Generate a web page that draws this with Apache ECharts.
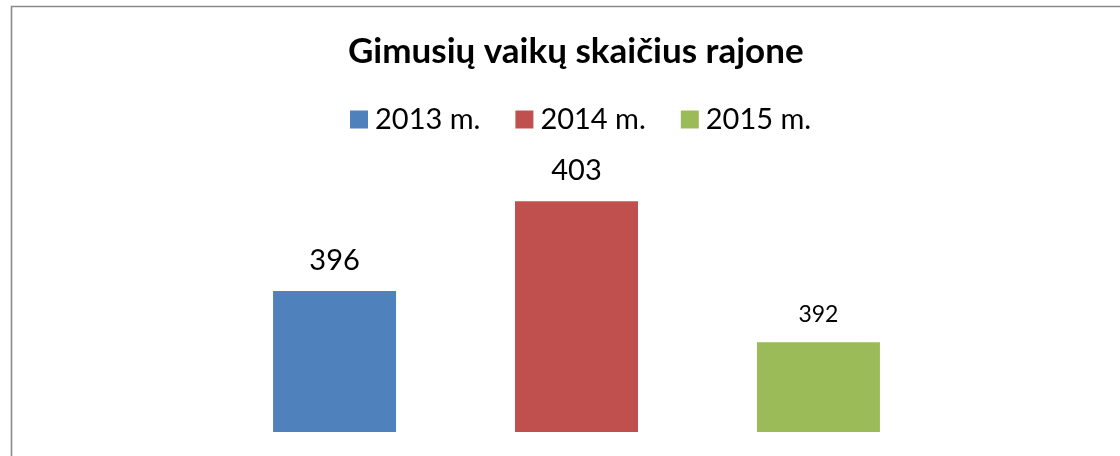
<!DOCTYPE html>
<html>
<head>
<meta charset="utf-8">
<script src="https://cdn.jsdelivr.net/npm/echarts@6/dist/echarts.min.js"></script>
<style>
html,body{margin:0;padding:0;background:#fff;}
#c{width:1120px;height:456px;}
</style>
</head>
<body>
<div id="c"></div>
<script>
const titleText = 'Gimusių vaikų skaičius rajone';
const categories = ['Gimę vaikai'];
const seriesNames = ['2013 m.', '2014 m.', '2015 m.'];
const values2013 = [396];
const values2014 = [403];
const values2015 = [392];
const seriesColors = ['#4F81BD', '#C0504D', '#9BBB59'];
const labelSizes = [29, 29, 23];

const seriesValues = [values2013, values2014, values2015];

const chart = echarts.init(document.getElementById('c'), null, {renderer: 'canvas'});
chart.setOption({
  animation: false,
  backgroundColor: '#fff',
  graphic: [{
    type: 'rect',
    shape: {x: 11.5, y: 6.5, width: 1300, height: 700},
    style: {fill: 'none', stroke: '#8a8a8a', lineWidth: 1.6},
    silent: true,
    z: -1
  }],
  title: {
    text: titleText,
    left: 343,
    top: 29,
    textStyle: {fontFamily: 'Lato', fontWeight: 'bold', fontSize: 35, color: '#000'}
  },
  legend: {
    top: 100,
    left: 345,
    itemWidth: 18,
    itemHeight: 18,
    itemGap: 35,
    icon: 'rect',
    textStyle: {fontFamily: 'Lato', fontSize: 29, color: '#000', padding: [0, 0, 0, 2]},
    data: seriesNames
  },
  grid: {left: 120, right: 87, top: 175.6, bottom: 24},
  xAxis: {
    type: 'category',
    data: categories,
    show: false
  },
  yAxis: {
    type: 'value',
    min: 385,
    max: 405,
    show: false
  },
  series: seriesNames.map((name, i) => ({
    name: name,
    type: 'bar',
    data: seriesValues[i],
    barWidth: 123,
    barGap: '96.7%',
    itemStyle: {color: seriesColors[i]},
    label: {
      show: true,
      position: 'top',
      distance: 16,
      fontFamily: 'Lato',
      fontSize: labelSizes[i],
      color: '#000'
    }
  }))
});
</script>
</body>
</html>
